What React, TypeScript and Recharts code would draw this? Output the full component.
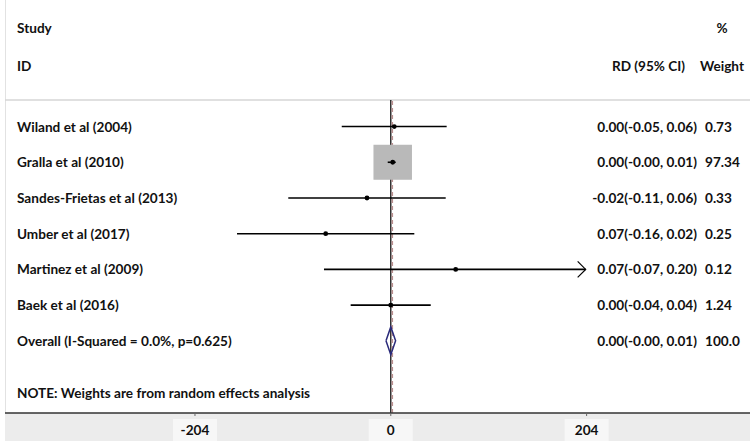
import {
  ComposedChart,
  Scatter,
  XAxis,
  YAxis,
  ReferenceLine,
  Customized,
} from "recharts";

// study rows, top to bottom
const studies = [
  "Wiland et al (2004)",
  "Gralla et al (2010)",
  "Sandes-Frietas et al (2013)",
  "Umber et al (2017)",
  "Martinez et al (2009)",
  "Baek et al (2016)",
];
const rdLabels = [
  "0.00(-0.05, 0.06)",
  "0.00(-0.00, 0.01)",
  "-0.02(-0.11, 0.06)",
  "0.07(-0.16, 0.02)",
  "0.07(-0.07, 0.20)",
  "0.00(-0.04, 0.04)",
];
const weightLabels = ["0.73", "97.34", "0.33", "0.25", "0.12", "1.24"];
const weights = [0.73, 97.34, 0.33, 0.25, 0.12, 1.24];

// positions on the plotted axis (ticks -204 / 0 / 204)
const estimates = [3.6, 2.0, -24.8, -67.8, 67.6, 0];
const lows = [-51.1, -3.2, -106.8, -160.2, -69.6, -41.8];
const highs = [58.2, 5.1, 57.2, 24.5, 203, 41.6];
const arrowRows = [4]; // CI runs past the axis
const axisTicks = [-204, 0, 204];

const overallLabel = "Overall (I-Squared = 0.0%, p=0.625)";
const overallRd = "0.00(-0.00, 0.01)";
const overallWeight = "100.0";
const overallLow = -5;
const overallEst = 0;
const overallHigh = 5;
const overallLine = 1.6;

const FONT = "Lato, 'Open Sans', sans-serif";
const X_DOMAIN: [number, number] = [-401.9, 374.2];
const Y_DOMAIN: [number, number] = [-0.743, 8.02];

const studyData = studies.map((_, i) => ({ x: estimates[i], y: i, weight: weights[i] }));
const ciData = studies.map((_, i) => [
  { x: lows[i], y: i },
  { x: highs[i], y: i },
]);

const textRows = [
  ...studies.map((s, i) => ({ x: 0, y: i, name: s, rd: rdLabels[i], w: weightLabels[i] })),
  { x: 0, y: studies.length, name: overallLabel, rd: overallRd, w: overallWeight },
];

const diamondH = 0.39;
const diamond = [
  { x: overallLow, y: studies.length },
  { x: overallEst, y: studies.length - diamondH },
  { x: overallHigh, y: studies.length },
  { x: overallEst, y: studies.length + diamondH },
  { x: overallLow, y: studies.length },
];

const arrowData = arrowRows.map((r) => ({ x: highs[r], y: r }));

const txt = { fontFamily: FONT, fontWeight: 700, fontSize: 13.6, fill: "#111" };

const Box = (props: any) => {
  const { cx, cy, payload } = props;
  const k = Math.sqrt(payload.weight / 97.34);
  const w = 38.5 * k;
  const h = 35 * k;
  return <rect x={cx - w / 2} y={cy - h / 2} width={w} height={h} fill="#b9b9b9" />;
};

const Dot = (props: any) => <circle cx={props.cx} cy={props.cy} r={2.4} fill="#000" />;
const NoDot = () => <g />;

const RowText = (props: any) => {
  const { cy, payload } = props;
  return (
    <g>
      <text x={17} y={cy + 5} {...txt}>{payload.name}</text>
      <text x={697} y={cy + 5} textAnchor="end" {...txt}>{payload.rd}</text>
      <text x={705} y={cy + 5} {...txt}>{payload.w}</text>
    </g>
  );
};

const Arrow = (props: any) => {
  const { cx, cy } = props;
  return (
    <path
      d={`M${cx - 8},${cy - 8} L${cx},${cy} L${cx - 8},${cy + 8}`}
      fill="none"
      stroke="#000"
      strokeWidth={1.2}
    />
  );
};

const Tick = (props: any) => {
  const { x, y, payload } = props;
  return (
    <g>
      <rect x={x - 22} y={y + 1} width={44} height={23} fill="#f7f7f7" />
      <text x={x} y={y + 17} textAnchor="middle" {...txt}>
        {payload.value}
      </text>
    </g>
  );
};

const Headers = () => (
  <g>
    <text x={17} y={33} {...txt}>Study</text>
    <text x={17} y={71} {...txt}>ID</text>
    <text x={722} y={33} textAnchor="middle" {...txt}>%</text>
    <text x={685} y={71} textAnchor="end" {...txt}>RD (95% CI)</text>
    <text x={700} y={71} {...txt}>Weight</text>
    <text x={17} y={398} {...txt}>NOTE: Weights are from random effects analysis</text>
  </g>
);

export default function App() {
  return (
    <div style={{ position: "absolute", left: 0, top: 0, width: 750, height: 441, background: "#fff" }}>
      <div style={{ position: "absolute", left: 5, top: 0, width: 1, height: 441, background: "#e2e2e2" }} />
      <div style={{ position: "absolute", left: 5, top: 413, width: 745, height: 28, background: "#ececec" }} />
      <ComposedChart
        width={750}
        height={441}
        margin={{ top: 100, right: 0, bottom: 0, left: 5 }}
        style={{ position: "absolute", left: 0, top: 0 }}
      >
        <XAxis
          dataKey="x"
          type="number"
          domain={X_DOMAIN}
          ticks={axisTicks}
          allowDataOverflow
          height={28}
          axisLine={{ stroke: "#333", strokeWidth: 1.5 }}
          tickLine={{ stroke: "#666" }}
          tickSize={3}
          tick={<Tick />}
        />
        <YAxis dataKey="y" type="number" domain={Y_DOMAIN} reversed hide width={0} allowDataOverflow />
        <Customized component={<Headers />} />
        <ReferenceLine y={Y_DOMAIN[0]} stroke="#d6d6d6" strokeWidth={1.5} />
        <Scatter data={studyData} shape={<Box />} isAnimationActive={false} />
        {ciData.map((d, i) => (
          <Scatter
            key={i}
            data={d}
            line={{ stroke: "#000", strokeWidth: 1.6 }}
            shape={<NoDot />}
            isAnimationActive={false}
          />
        ))}
        <Scatter data={studyData} shape={<Dot />} isAnimationActive={false} />
        <Scatter data={arrowData} shape={<Arrow />} isAnimationActive={false} />
        <Scatter
          data={diamond}
          line={{ stroke: "#2a2a7a", strokeWidth: 1.5 }}
          shape={<NoDot />}
          isAnimationActive={false}
        />
        <Scatter data={textRows} shape={<RowText />} isAnimationActive={false} />
        <ReferenceLine x={overallEst} stroke="#111" strokeWidth={1.3} />
        <ReferenceLine x={overallLine} stroke="#b98f8f" strokeWidth={1.5} strokeDasharray="4 3" />
      </ComposedChart>
    </div>
  );
}
